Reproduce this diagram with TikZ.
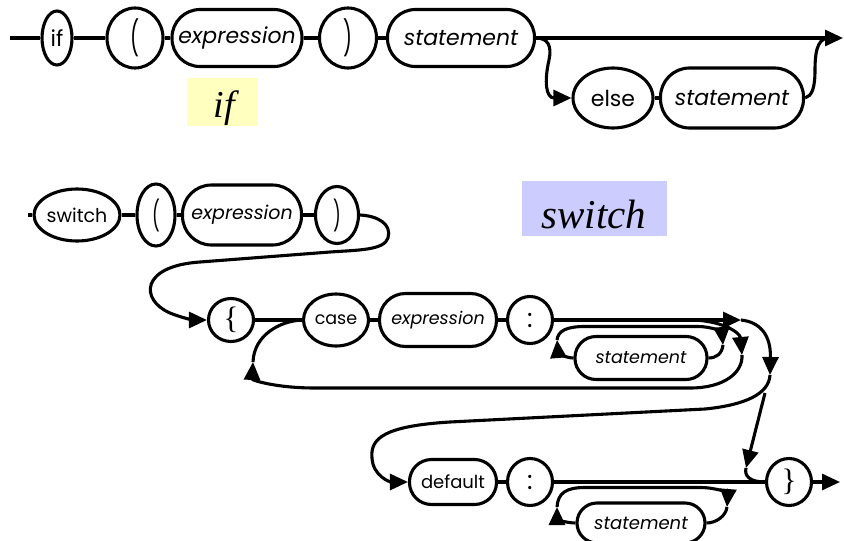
\documentclass[tikz,border=0pt]{standalone}
\usepackage{fontspec}
\usepackage{graphicx}
\setsansfont{Poppins}
\setmainfont{Liberation Serif}
\usetikzlibrary{arrows.meta,shapes.geometric}

\definecolor{ifyellow}{RGB}{255,255,192}
\definecolor{swlilac}{RGB}{204,204,255}

% tall thin punctuation inside the round terminals
\newcommand{\tallglyph}[1]{\scalebox{0.9}[1.55]{#1}}
\newcommand{\bracechar}[1]{{\rmfamily\fontsize{31}{31}\selectfont #1}}
\newcommand{\colonchar}{{\fontsize{26}{26}\selectfont :}}

\tikzset{
  rail/.style={line width=3.1pt},
  tip/.style={-{Triangle[length=18pt,width=16pt]}},
  term/.style={ellipse, draw, line width=3.1pt, inner sep=0pt},
  nonterm/.style={rectangle, draw, line width=3.1pt, inner sep=0pt},
  rowA/.style={font=\sffamily\fontsize{22}{24}\selectfont},
  rowB/.style={font=\sffamily\fontsize{19}{21}\selectfont},
  rowC/.style={font=\sffamily\fontsize{17.5}{20}\selectfont},
  rowD/.style={font=\sffamily\fontsize{18}{20}\selectfont},
  tag/.style={inner sep=0pt, font=\rmfamily\itshape},
}

\begin{document}
\begin{tikzpicture}[x=1pt,y=-1pt]
\useasboundingbox (0,0) rectangle (844,541);

% ---------- if ----------
\node[term, rowA, minimum width=30pt, minimum height=54pt] (if) at (57,38) {if};
\node[term, rowA, minimum width=56pt, minimum height=60pt] (lp1) at (135,38) {\tallglyph{(}};
\node[nonterm, rowA, rounded corners=28pt, minimum width=130pt, minimum height=57pt] (ex1) at (237,38) {\itshape expression};
\node[term, rowA, minimum width=57pt, minimum height=60pt] (rp1) at (348,38) {\tallglyph{)}};
\node[nonterm, rowA, rounded corners=28pt, minimum width=147pt, minimum height=57pt] (st1) at (461,38) {\itshape statement};
\node[term, rowA, minimum width=80pt, minimum height=60pt] (else) at (613,98) {else};
\node[nonterm, rowA, rounded corners=29pt, minimum width=143pt, minimum height=60pt] (st2) at (732,98) {\itshape statement};

\coordinate (s1) at (10,38);
\coordinate (e1) at (843,38);

\draw[rail] (s1) -- (if.west);
\draw[rail] (if) -- (lp1);
\draw[rail] (lp1) -- (ex1);
\draw[rail] (ex1) -- (rp1);
\draw[rail] (rp1) -- (st1);
\draw[rail, tip] (st1.east) -- (e1);
\draw[rail, tip] (st1.east) .. controls (548,38) and (552,46) .. (549,60)
                 .. controls (544,82) and (546,98) .. (else.west);
\draw[rail] (else) -- (st2);
\draw[rail] (st2.east) .. controls (812,96) and (815,88) .. (815,70)
            .. controls (815,45) and (820,38) .. (830,38);

\node[fill=ifyellow, minimum width=71pt, minimum height=48pt, inner sep=0pt] (iftagbox) at (222.5,102) {};
\node[tag, anchor=base, font=\rmfamily\itshape\fontsize{38}{40}\selectfont] (iftag) at (224,117) {if};

% ---------- switch ----------
\node[fill=swlilac, minimum width=145pt, minimum height=55pt, inner sep=0pt] (swtagbox) at (594.5,208.5) {};
\node[tag, anchor=base, font=\rmfamily\itshape\fontsize{41}{43}\selectfont] (swtag) at (594,228) {switch};

\node[term, rowB, minimum width=80pt, minimum height=52pt] (sw) at (77,215) {switch};
\node[term, rowB, minimum width=38pt, minimum height=62pt] (lp2) at (156,215) {\tallglyph{(}};
\node[nonterm, rowB, rounded corners=29pt, minimum width=119pt, minimum height=60pt] (ex2) at (242,215) {\itshape expression};
\node[term, rowB, minimum width=43pt, minimum height=57pt] (rp2) at (337,215) {\tallglyph{)}};

\node[term, rowC, minimum width=45pt, minimum height=43pt] (lb) at (231,320) {\bracechar{\{}};
\node[term, rowC, minimum width=65pt, minimum height=52pt] (case) at (336,320) {case};
\node[nonterm, rowC, rounded corners=26pt, minimum width=117pt, minimum height=53pt] (ex3) at (438,320) {\itshape expression};
\node[term, rowC, minimum width=45pt, minimum height=47pt] (col1) at (530,320) {\colonchar};
\node[nonterm, rowC, rounded corners=21pt, minimum width=132pt, minimum height=43pt] (st3) at (641,358) {\itshape statement};

\node[nonterm, rowD, rounded corners=22pt, minimum width=87pt, minimum height=45pt] (dflt) at (453,482) {default};
\node[term, rowD, minimum width=45pt, minimum height=47pt] (col2) at (530,482) {\colonchar};
\node[term, rowD, minimum width=45pt, minimum height=47pt] (rb) at (789,482) {\bracechar{\}}};
\node[nonterm, rowD, rounded corners=20pt, minimum width=128pt, minimum height=40pt] (st4) at (641,523) {\itshape statement};

\coordinate (s2) at (28,215);
\coordinate (j1) at (741,320);
\coordinate (j2) at (770,375);
\coordinate (e2) at (840,482);

\draw[rail] (s2) -- (sw.west);
\draw[rail] (sw) -- (lp2);
\draw[rail] (lp2) -- (ex2);
\draw[rail] (ex2) -- (rp2);
\draw[rail, tip] (rp2.east) .. controls (378,216) and (392,224) .. (388,238)
                 .. controls (384,250) and (360,250) .. (330,252)
                 -- (200,262)
                 .. controls (140,266) and (140,300) .. (170,313)
                 .. controls (185,319) and (195,320) .. (lb.west);

% case list
\draw[rail] (lb) -- (case);
\draw[rail] (case) -- (ex3);
\draw[rail] (ex3) -- (col1);
\draw[rail, tip] (col1.east) -- (j1);

% statements after case
\draw[rail, tip] (st3.west) .. controls (565,358) and (558,352) .. (557,340);
\draw[rail, tip] (557,340) .. controls (558,331) and (566,326.5) .. (585,326.5) -- (698,326.5)
                 .. controls (713,326.5) and (722,333) .. (723,345);
\draw[rail] (723,345) .. controls (722,354) and (716,358) .. (st3.east);

% back to the next case
\draw[rail, tip] (690,320) .. controls (720,320) and (740,332) .. (742,355);
\draw[rail, tip] (742,355) .. controls (743,372) and (725,388) .. (690,388) -- (315,388)
                 .. controls (275,388) and (252,380) .. (253,362);
\draw[rail] (253,362) .. controls (254,335) and (280,321) .. (case.west);

% on to default or to the closing brace
\draw[rail, tip] (j1) .. controls (760,322) and (771,335) .. (j2);
\draw[rail, tip] (j2) .. controls (769,394) and (745,405) .. (705,409) -- (450,422)
                 .. controls (385,426) and (370,438) .. (372,458)
                 .. controls (373,476) and (390,482) .. (dflt.west);
\draw[rail, tip] (765,393) -- (746,468);
\draw[rail] (746,468) .. controls (744,476) and (750,482) .. (rb.west);

% default part
\draw[rail] (dflt) -- (col2);
\draw[rail] (col2) -- (rb);
\draw[rail, tip] (rb.east) -- (e2);
\draw[rail, tip] (st4.west) .. controls (565,523) and (557,518) .. (557,507);
\draw[rail, tip] (557,507) .. controls (558,493) and (566,487.5) .. (585,487.5) -- (700,487.5)
                 .. controls (718,487.5) and (728,494) .. (727,507);
\draw[rail] (727,507) .. controls (726,516) and (716,523) .. (st4.east);
\end{tikzpicture}
\end{document}
